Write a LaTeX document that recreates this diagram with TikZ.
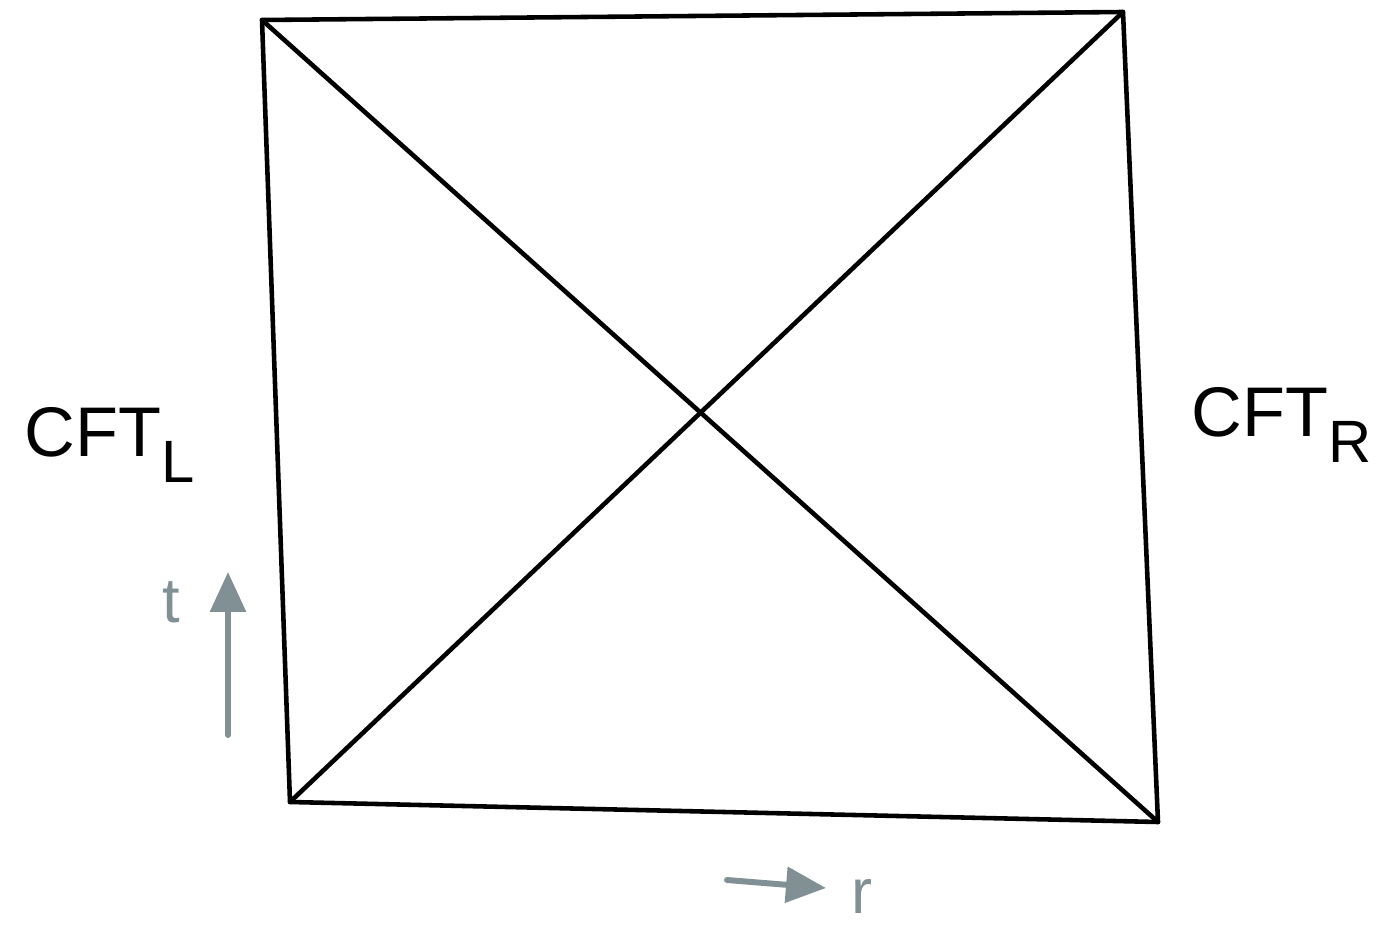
\documentclass[tikz,border=0pt]{standalone}
\usepackage{fontspec}
\setsansfont{Liberation Sans}
\usetikzlibrary{arrows.meta, positioning, calc}
\definecolor{arrowgray}{RGB}{128,144,148}

\begin{document}
\begin{tikzpicture}[x=0.02cm, y=-0.02cm,
    edge/.style={line width=2.6pt, line join=round, line cap=round},
    dirarrow/.style={arrowgray, line width=3.4pt, line cap=round, -{Triangle[length=8mm, width=7mm]}},
    cftlabel/.style={font=\sffamily\fontsize{40}{44}\selectfont, inner sep=0pt},
    dirlabel/.style={arrowgray, font=\sffamily\fontsize{36}{40}\selectfont, inner sep=0pt}
  ]
    \useasboundingbox (0,0) rectangle (1380,929);

    % Corners of the diagram
    \coordinate (tl) at (262,20);
    \coordinate (tr) at (1123,12);
    \coordinate (br) at (1158,822);
    \coordinate (bl) at (290,802);

    % Boundary and diagonals
    \draw[edge] (tl) -- (tr) -- (br) -- (bl) -- cycle;
    \draw[edge] (tl) -- (br);
    \draw[edge] (tr) -- (bl);

    % Boundary labels
    \node[cftlabel] (cftl) at (110,445) {CFT$_{\textsf{\fontsize{34}{36}\selectfont L}}$};
    \node[cftlabel] (cftr) at (1282,425) {CFT$_{\textsf{\fontsize{34}{36}\selectfont R}}$};

    % Time direction
    \coordinate (tfoot) at (228,735);
    \coordinate (thead) at (228,572);
    \draw[dirarrow] (tfoot) -- (thead);
    \node[dirlabel] (tlab) at (171,602) {t};

    % Radial direction
    \coordinate (rfoot) at (727,880);
    \coordinate (rhead) at (826,888);
    \draw[dirarrow] (rfoot) -- (rhead);
    \node[dirlabel] (rlab) at (862,896) {r};

  \end{tikzpicture}
\end{document}
